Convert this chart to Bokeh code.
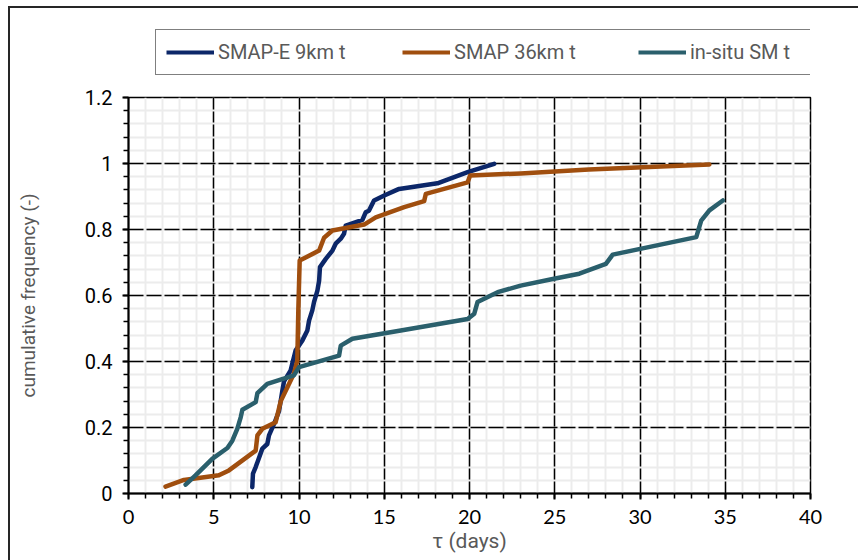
from bokeh.plotting import figure
from bokeh.models import Range1d, FixedTicker, Legend, LegendItem
from bokeh.layouts import column
from bokeh.embed import file_html
from bokeh.resources import INLINE

# ---- data ----
smape_tau = [7.26, 7.30, 7.46, 7.85, 8.14, 8.24, 8.53, 8.83, 9.02, 9.12, 9.51, 9.80, 10.20, 10.49,
             10.59, 10.78, 10.88, 11.08, 11.18, 11.23, 11.57, 11.96, 12.15, 12.45, 12.64, 12.74,
             13.72, 13.91, 14.10, 14.40, 15.00, 15.87, 18.12, 19.89, 21.45]
smape_cf = [0.019, 0.060, 0.080, 0.136, 0.150, 0.176, 0.210, 0.250, 0.310, 0.340, 0.373, 0.433, 0.464,
            0.494, 0.524, 0.555, 0.580, 0.615, 0.645, 0.686, 0.711, 0.736, 0.757, 0.772, 0.787, 0.812,
            0.829, 0.852, 0.857, 0.888, 0.903, 0.923, 0.940, 0.974, 0.999]

smap36_tau = [2.17, 3.25, 5.30, 5.89, 7.46, 7.56, 7.85, 8.63, 8.93, 9.32, 9.70, 9.90, 9.96, 10.04,
              11.18, 11.47, 11.96, 13.82, 14.50, 16.17, 17.34, 17.44, 19.89, 20.04, 23.00, 27.00, 34.07]
smap36_cf = [0.021, 0.041, 0.055, 0.070, 0.130, 0.176, 0.196, 0.216, 0.280, 0.322, 0.363, 0.403, 0.555,
             0.706, 0.736, 0.775, 0.797, 0.815, 0.837, 0.868, 0.886, 0.908, 0.943, 0.964, 0.970, 0.982, 0.997]

insitu_tau = [3.35, 3.93, 4.91, 5.80, 6.09, 6.38, 6.58, 6.68, 7.46, 7.56, 8.14, 9.70, 10.00, 12.35,
              12.45, 13.13, 15.97, 19.89, 20.28, 20.47, 21.65, 23.00, 24.88, 26.44, 28.00, 28.40,
              33.30, 33.59, 34.07, 34.86]
insitu_cf = [0.027, 0.055, 0.105, 0.138, 0.160, 0.196, 0.231, 0.254, 0.277, 0.304, 0.332, 0.358, 0.383,
             0.418, 0.448, 0.469, 0.494, 0.529, 0.545, 0.580, 0.610, 0.630, 0.650, 0.666, 0.696, 0.724,
             0.777, 0.827, 0.858, 0.888]

series_names = ["SMAP-E 9km t", "SMAP 36km t", "in-situ SM t"]
series_colors = ["#0c2769", "#a04e0e", "#2a5f6c"]
series_x = [smape_tau, smap36_tau, insitu_tau]
series_y = [smape_cf, smap36_cf, insitu_cf]

x_ticks = [0, 5, 10, 15, 20, 25, 30, 35, 40]
y_ticks = [0, 0.2, 0.4, 0.6, 0.8, 1.0, 1.2]
y_tick_labels = {0: "0", 0.2: "0.2", 0.4: "0.4", 0.6: "0.6", 0.8: "0.8", 1.0: "1", 1.2: "1.2"}

NARROW = "Roboto"
GRAY = "#595959"

# ---------------- main chart ----------------
p = figure(width=848, height=475, output_backend="svg", toolbar_location=None,
           x_range=Range1d(0, 40), y_range=Range1d(0, 1.2),
           min_border_left=118, min_border_top=12, min_border_right=48, min_border_bottom=67)

p.outline_line_color = "black"
p.outline_line_width = 1.5

p.xgrid.grid_line_color = "black"
p.xgrid.grid_line_width = 1.5
p.xgrid.minor_grid_line_color = "#ececec"
p.xgrid.minor_grid_line_width = 2
p.ygrid.grid_line_color = "black"
p.ygrid.grid_line_width = 1.5
p.ygrid.grid_line_dash = "15 3"
p.ygrid.minor_grid_line_color = "#ececec"
p.ygrid.minor_grid_line_width = 2
p.xgrid.level = "underlay"
p.ygrid.level = "underlay"

xt = FixedTicker(ticks=x_ticks, minor_ticks=list(range(0, 41)))
yt = FixedTicker(ticks=y_ticks, minor_ticks=[round(i * 0.04, 2) for i in range(31)])
p.xaxis.ticker = xt
p.yaxis.ticker = yt
p.xgrid.ticker = xt
p.ygrid.ticker = yt
p.yaxis.major_label_overrides = y_tick_labels

for ax in (p.xaxis, p.yaxis):
    ax.axis_line_color = "black"
    ax.axis_line_width = 2
    ax.major_tick_line_color = "black"
    ax.major_tick_line_width = 2
    ax.minor_tick_line_color = "black"
    ax.minor_tick_line_width = 1.5
    ax.major_tick_in = 0
    ax.major_tick_out = 6
    ax.minor_tick_in = 0
    ax.minor_tick_out = 5
    ax.major_label_text_color = "black"
    ax.axis_label_text_color = GRAY
    ax.axis_label_text_font_style = "normal"

p.xaxis.major_label_text_font = "Lato"
p.xaxis.major_label_text_font_size = "20px"
p.xaxis.major_label_standoff = 10
p.xaxis.axis_label = "τ (days)"
p.xaxis.axis_label_text_font = NARROW
p.xaxis.axis_label_text_font_size = "21px"
p.xaxis.axis_label_standoff = 2

p.yaxis.major_label_text_font = NARROW
p.yaxis.major_label_text_font_size = "20px"
p.yaxis.major_label_standoff = 10
p.yaxis.axis_label = "cumulative frequency (-)"
p.yaxis.axis_label_text_font = NARROW
p.yaxis.axis_label_text_font_size = "19px"
p.yaxis.axis_label_standoff = 42

for xs, ys, color in zip(series_x, series_y, series_colors):
    p.line(xs, ys, line_color=color, line_width=4.5, line_join="round", line_cap="round")

# ---------------- legend strip (its frame is aligned with the chart frame) ----------------
lg = figure(width=848, height=77, output_backend="svg", toolbar_location=None,
            x_axis_type=None, y_axis_type=None,
            x_range=Range1d(0, 40), y_range=Range1d(5, 6),
            min_border_left=0, min_border_right=0, min_border_top=0, min_border_bottom=0)
lg.outline_line_color = None
lg.xgrid.visible = False
lg.ygrid.visible = False
items = []
for xs, ys, name, color in zip(series_x, series_y, series_names, series_colors):
    r = lg.line(xs, ys, line_color=color, line_width=4)   # out of view; used only for the legend key
    items.append(LegendItem(label=name, renderers=[r]))

legend = Legend(items=items, orientation="horizontal", location=(27, 10))
legend.border_line_color = "black"
legend.border_line_width = 1.5
legend.background_fill_color = "white"
legend.background_fill_alpha = 1
legend.label_text_font = NARROW
legend.label_text_font_size = "20px"
legend.label_text_color = GRAY
legend.glyph_width = 48
legend.glyph_height = 20
legend.label_standoff = 4
legend.label_width = 128
legend.spacing = 56
legend.padding = 10
legend.margin = 0
lg.add_layout(legend, "center")

layout = column(lg, p, spacing=0,
                styles={"margin-left": "8px", "margin-top": "6px",
                        "border-left": "2px solid #262626", "border-top": "2px solid #262626"})

open("out.html", "w").write(file_html(layout, INLINE))
